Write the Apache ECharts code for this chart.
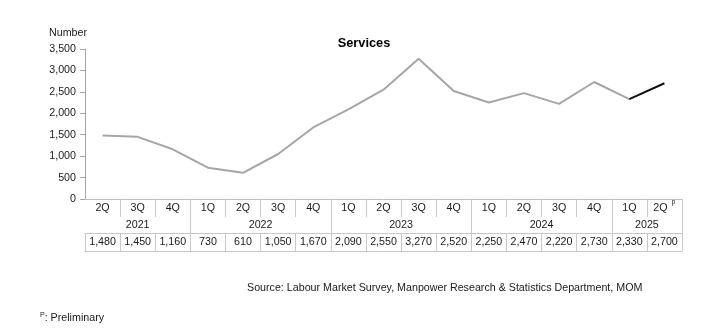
<!DOCTYPE html>
<html>
<head>
<meta charset="utf-8">
<script src="https://cdn.jsdelivr.net/npm/echarts@6/dist/echarts.min.js"></script>
<style>html,body{margin:0;padding:0;background:#fff}#c{width:720px;height:332px}</style>
</head>
<body>
<div id="c"></div>
<script>
const quarters = ['2Q','3Q','4Q','1Q','2Q','3Q','4Q','1Q','2Q','3Q','4Q','1Q','2Q','3Q','4Q','1Q','2Q'];
const years = ['2021','2022','2023','2024','2025'];
const quartersPerYear = [3, 4, 4, 4, 2];
const values = [1480,1450,1160,730,610,1050,1670,2090,2550,3270,2520,2250,2470,2220,2730,2330,2700];
const preliminaryCount = 1;
const yTicks = { min: 0, max: 3500, interval: 500 };

const FONT = '"Liberation Sans", Arial, sans-serif';
const FS = 10.7;
const n = quarters.length;
const fmt = v => Number(v).toLocaleString('en-US');

// year group boundaries and centres derived from the data
const yearEnds = [], yearMids = {}, midVals = [];
let acc = 0;
quartersPerYear.forEach((q, i) => {
  const mid = acc + q / 2;
  yearMids[mid] = years[i];
  midVals.push(mid);
  acc += q;
  yearEnds.push(acc);
});

const lastFinal = n - 1 - preliminaryCount;
const greyData = values.map((v, i) => i <= lastFinal ? v : '-');
const blackData = values.map((v, i) => i >= lastFinal ? v : '-');

const tableLine = '#c8c8c8';
const txt = { fontFamily: FONT, fontSize: FS, color: '#1a1a1a' };

const chart = echarts.init(document.getElementById('c'), null, { renderer: 'canvas' });
chart.setOption({
  animation: false,
  backgroundColor: '#fff',
  title: [
    { text: 'Services', left: 364, top: 37, textAlign: 'center', padding: 0,
      textStyle: { fontFamily: FONT, fontSize: 12.8, fontWeight: 'bold', color: '#000' } },
    { text: 'Number', left: 49, top: 28, padding: 0,
      textStyle: { fontFamily: FONT, fontSize: FS, fontWeight: 'normal', color: '#1a1a1a' } },
    { text: 'Source: Labour Market Survey, Manpower Research & Statistics Department, MOM', left: 247, top: 283, padding: 0,
      textStyle: { fontFamily: FONT, fontSize: FS, fontWeight: 'normal', color: '#1a1a1a' } },
    { text: '{s|P}: Preliminary', left: 40, top: 312, padding: 0,
      textStyle: { fontFamily: FONT, fontSize: FS, fontWeight: 'normal', color: '#1a1a1a',
        rich: { s: { fontFamily: FONT, fontSize: 7, color: '#1a1a1a', verticalAlign: 'top', lineHeight: 13 } } } }
  ],
  grid: { left: 85, right: 38, top: 49, bottom: 133, containLabel: false },
  yAxis: {
    type: 'value', min: yTicks.min, max: yTicks.max, interval: yTicks.interval,
    axisLine: { show: true, lineStyle: { color: '#a6a6a6', width: 1 } },
    axisTick: { show: true, length: 5, lineStyle: { color: '#a6a6a6' } },
    splitLine: { show: false },
    axisLabel: Object.assign({ formatter: fmt, margin: 9 }, txt)
  },
  xAxis: [
    { // quarter row
      type: 'category', data: quarters, position: 'bottom', boundaryGap: true,
      axisLine: { show: true, onZero: false, lineStyle: { color: '#bfbfbf', width: 1 } },
      axisTick: { show: true, length: 18, interval: (i) => i > 0, lineStyle: { color: tableLine } },
      axisLabel: Object.assign({
        interval: 0, margin: 9, verticalAlign: 'middle',
        formatter: (v, i) => i >= n - preliminaryCount ? v + '{sup|p}' : v,
        rich: { sup: { fontFamily: FONT, fontSize: 7, color: '#1a1a1a', padding: [0, 0, 12, 4] } }
      }, txt),
      splitLine: { show: false }
    },
    { // year row
      type: 'value', min: 0, max: n, position: 'bottom', offset: 0,
      axisLine: { show: false },
      axisTick: { show: true, length: 34, customValues: yearEnds, lineStyle: { color: tableLine } },
      axisLabel: Object.assign({
        customValues: midVals, margin: 26, verticalAlign: 'middle',
        formatter: v => yearMids[v] || ''
      }, txt),
      splitLine: { show: false }
    },
    { // value row
      type: 'category', data: values, position: 'bottom', offset: 34, boundaryGap: true,
      axisLine: { show: true, onZero: false, lineStyle: { color: tableLine, width: 1 } },
      axisTick: { show: true, length: 18, interval: 0, lineStyle: { color: tableLine } },
      axisLabel: Object.assign({ interval: 0, margin: 9, verticalAlign: 'middle', formatter: fmt }, txt),
      splitLine: { show: false }
    },
    { // bottom border
      type: 'category', data: values, position: 'bottom', offset: 52, boundaryGap: true,
      axisLine: { show: true, onZero: false, lineStyle: { color: tableLine, width: 1 } },
      axisTick: { show: false }, axisLabel: { show: false }, splitLine: { show: false }
    }
  ],
  series: [
    { type: 'line', xAxisIndex: 0, yAxisIndex: 0, data: greyData, symbol: 'none',
      lineStyle: { color: '#a6a6a6', width: 2 }, z: 3 },
    { type: 'line', xAxisIndex: 0, yAxisIndex: 0, data: blackData, symbol: 'none',
      lineStyle: { color: '#111', width: 2 }, z: 4 }
  ]
});
</script>
</body>
</html>
